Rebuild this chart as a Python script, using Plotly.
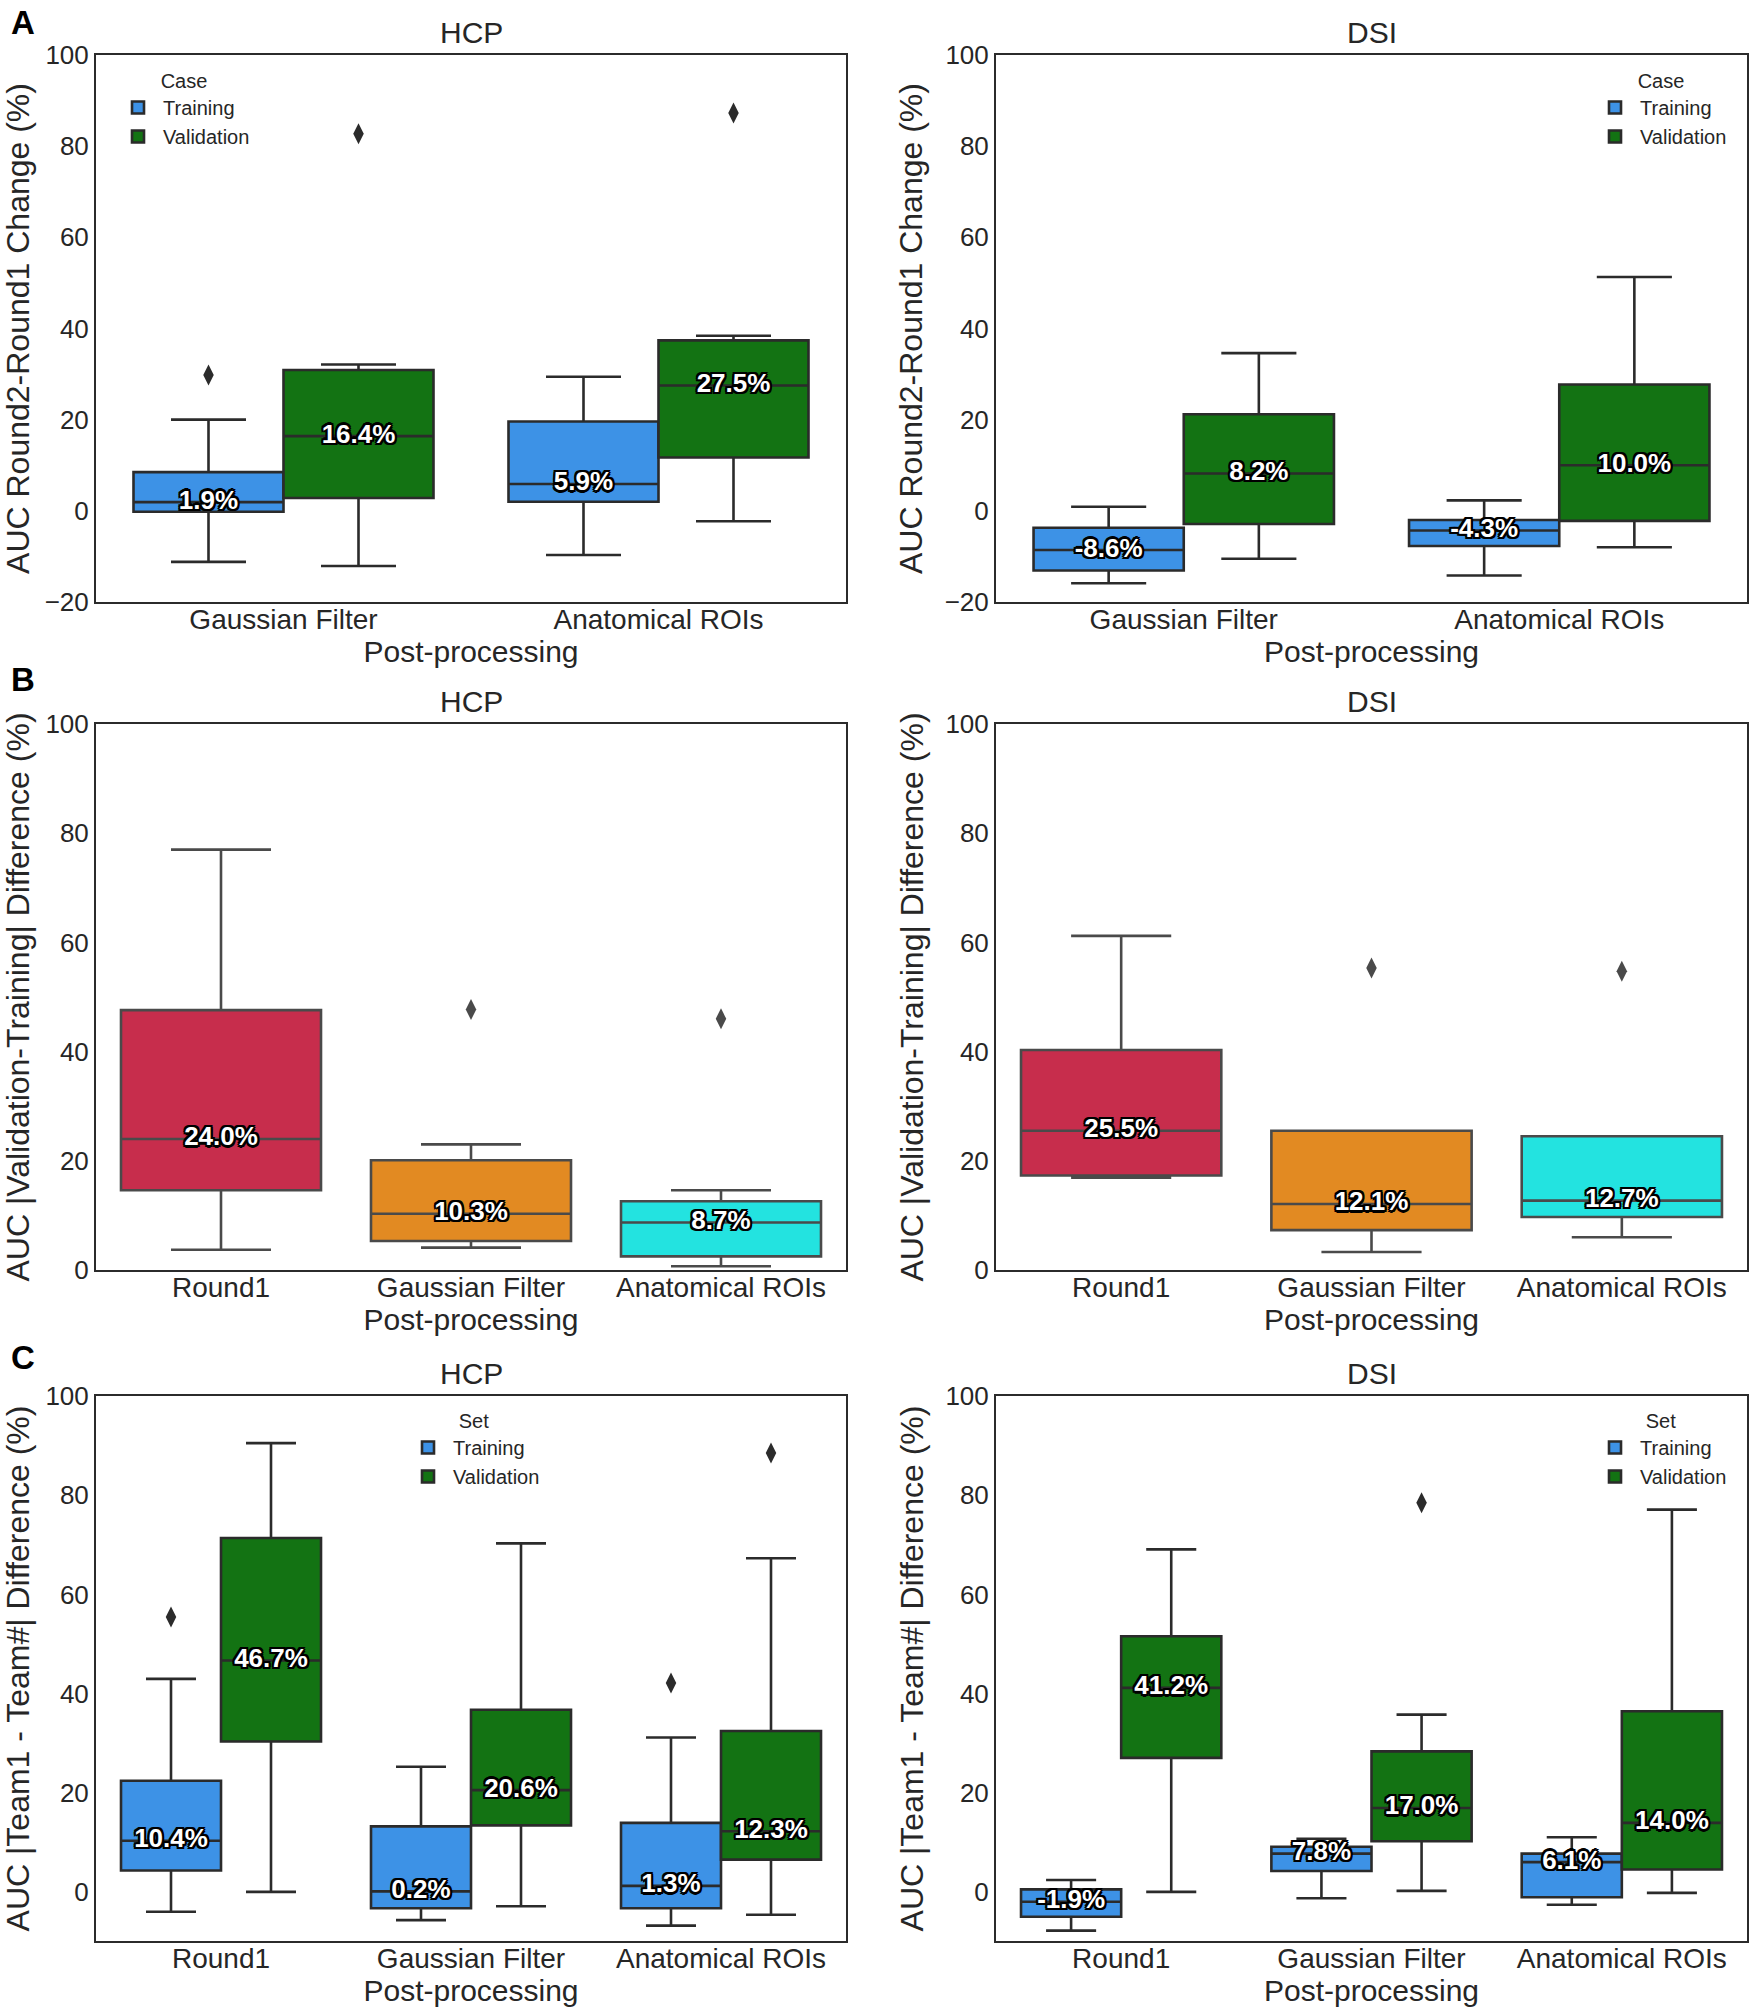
import plotly.graph_objects as go

# ---------------- data ----------------
CATS_A = ["Gaussian Filter", "Anatomical ROIs"]
CATS_BC = ["Round1", "Gaussian Filter", "Anatomical ROIs"]

# five-number summaries per category: [lower whisker, Q1, median, Q3, upper whisker]
A_HCP_TRAIN = [[-11.2, -0.2, 1.9, 8.5, 20.0], [-9.7, 2.0, 5.9, 19.6, 29.4]]
A_HCP_VALID = [[-12.1, 2.8, 16.4, 30.9, 32.1], [-2.3, 11.7, 27.5, 37.4, 38.4]]
A_HCP_TRAIN_OUT_X = ["Gaussian Filter"]
A_HCP_TRAIN_OUT_Y = [29.8]
A_HCP_VALID_OUT_X = ["Gaussian Filter", "Anatomical ROIs"]
A_HCP_VALID_OUT_Y = [82.7, 87.3]

A_DSI_TRAIN = [[-15.9, -13.1, -8.6, -3.7, 0.9], [-14.2, -7.7, -4.3, -2.0, 2.3]]
A_DSI_VALID = [[-10.5, -2.9, 8.2, 21.2, 34.6], [-8.0, -2.2, 10.0, 27.7, 51.3]]

B_HCP = [[3.7, 14.6, 24.0, 47.6, 77.0], [4.1, 5.3, 10.3, 20.1, 23.0], [0.7, 2.5, 8.7, 12.6, 14.6]]
B_HCP_OUT_X = ["Gaussian Filter", "Anatomical ROIs"]
B_HCP_OUT_Y = [47.7, 46.0]

B_DSI = [[16.9, 17.3, 25.5, 40.3, 61.2], [3.3, 7.3, 12.1, 25.5, 25.5], [6.0, 9.7, 12.7, 24.5, 24.5]]
B_DSI_OUT_X = ["Gaussian Filter", "Anatomical ROIs"]
B_DSI_OUT_Y = [55.3, 54.7]

C_HCP_TRAIN = [[-3.9, 4.4, 10.4, 22.5, 43.0], [-5.6, -3.2, 0.2, 13.3, 25.3], [-6.7, -3.2, 1.3, 14.0, 31.2]]
C_HCP_VALID = [[0.1, 30.4, 46.7, 71.4, 90.5], [-2.8, 13.5, 20.6, 36.8, 70.3], [-4.5, 6.6, 12.3, 32.5, 67.3]]
C_HCP_TRAIN_OUT_X = ["Round1", "Anatomical ROIs"]
C_HCP_TRAIN_OUT_Y = [55.5, 42.2]
C_HCP_VALID_OUT_X = ["Anatomical ROIs"]
C_HCP_VALID_OUT_Y = [88.5]

C_DSI_TRAIN = [[-7.7, -4.9, -1.9, 0.6, 2.5], [-1.2, 4.3, 7.8, 9.2, 10.8], [-2.5, -1.0, 6.1, 7.8, 11.1]]
C_DSI_VALID = [[0.1, 27.1, 41.2, 51.6, 69.1], [0.3, 10.3, 17.0, 28.4, 35.8], [-0.1, 4.6, 14.0, 36.5, 77.1]]
C_DSI_VALID_OUT_X = ["Gaussian Filter"]
C_DSI_VALID_OUT_Y = [78.5]

# ---------------- styles ----------------
FONT = "Liberation Sans, Arial, Helvetica, sans-serif"
TXT = "#262626"
BLUE = "#3d92e6"
GREEN = "#137313"
B_COLORS = ["#c72d4c", "#e28a22", "#23e3e0"]
EDGE = "#2b2b2b"
EDGE_B = "#4a4a4a"
OUTLINE = ("2px 2px 0 #000, -2px -2px 0 #000, 2px -2px 0 #000, -2px 2px 0 #000, "
           "0 2.2px 0 #000, 2.2px 0 0 #000, 0 -2.2px 0 #000, -2.2px 0 0 #000")

W, H = 1751, 2016
XDOM = [[96 / W, 846 / W], [996 / W, 1747 / W]]
YDOM = [[1 - 602 / H, 1 - 55 / H], [1 - 1270 / H, 1 - 724 / H], [1 - 1941 / H, 1 - 1396 / H]]

fig = go.Figure()


def axid(n):
    return "" if n == 1 else str(n)


def add_series(n, cats, stats, name, color, group, legend, showlegend, edge=EDGE):
    lo, q1, med, q3, hi = (list(c) for c in zip(*stats))
    fig.add_trace(go.Box(
        x=cats, q1=q1, median=med, q3=q3, lowerfence=lo, upperfence=hi,
        name=name, fillcolor=color, line=dict(color=edge, width=2.6),
        whiskerwidth=0.5, boxpoints=False, orientation="v",
        offsetgroup=group, alignmentgroup="g",
        xaxis="x" + axid(n), yaxis="y" + axid(n),
        legend=legend, showlegend=showlegend, hoverinfo="y"))


def add_labels(n, cats, stats, group):
    med = [s[2] for s in stats]
    fig.add_trace(go.Scatter(
        x=cats, y=med, mode="text", text=[f"{m:.1f}%" for m in med],
        textposition="middle center",
        textfont=dict(family=FONT, size=26, color="white", weight="bold", shadow=OUTLINE),
        offsetgroup=group, alignmentgroup="g", orientation="v",
        xaxis="x" + axid(n), yaxis="y" + axid(n), showlegend=False, hoverinfo="skip"))


def add_outliers(n, xs, ys, group, color=EDGE):
    fig.add_trace(go.Scatter(
        x=xs, y=ys, mode="markers",
        marker=dict(symbol="diamond-tall", size=15, color=color),
        offsetgroup=group, alignmentgroup="g", orientation="v",
        xaxis="x" + axid(n), yaxis="y" + axid(n), showlegend=False))


# Panel A
add_series(1, CATS_A, A_HCP_TRAIN, "Training", BLUE, "T", "legend", True)
add_series(1, CATS_A, A_HCP_VALID, "Validation", GREEN, "V", "legend", True)
add_labels(1, CATS_A, A_HCP_TRAIN, "T")
add_labels(1, CATS_A, A_HCP_VALID, "V")
add_outliers(1, A_HCP_TRAIN_OUT_X, A_HCP_TRAIN_OUT_Y, "T")
add_outliers(1, A_HCP_VALID_OUT_X, A_HCP_VALID_OUT_Y, "V")

add_series(2, CATS_A, A_DSI_TRAIN, "Training", BLUE, "T", "legend2", True)
add_series(2, CATS_A, A_DSI_VALID, "Validation", GREEN, "V", "legend2", True)
add_labels(2, CATS_A, A_DSI_TRAIN, "T")
add_labels(2, CATS_A, A_DSI_VALID, "V")

# Panel B
for n, stats, ox, oy in [(3, B_HCP, B_HCP_OUT_X, B_HCP_OUT_Y), (4, B_DSI, B_DSI_OUT_X, B_DSI_OUT_Y)]:
    for cat, st, col in zip(CATS_BC, stats, B_COLORS):
        add_series(n, [cat], [st], cat, col, "B", "legend", False, edge=EDGE_B)
    add_labels(n, CATS_BC, stats, "B")
    add_outliers(n, ox, oy, "B", color=EDGE_B)

# Panel C
add_series(5, CATS_BC, C_HCP_TRAIN, "Training", BLUE, "T", "legend3", True)
add_series(5, CATS_BC, C_HCP_VALID, "Validation", GREEN, "V", "legend3", True)
add_labels(5, CATS_BC, C_HCP_TRAIN, "T")
add_labels(5, CATS_BC, C_HCP_VALID, "V")
add_outliers(5, C_HCP_TRAIN_OUT_X, C_HCP_TRAIN_OUT_Y, "T")
add_outliers(5, C_HCP_VALID_OUT_X, C_HCP_VALID_OUT_Y, "V")

add_series(6, CATS_BC, C_DSI_TRAIN, "Training", BLUE, "T", "legend4", True)
add_series(6, CATS_BC, C_DSI_VALID, "Validation", GREEN, "V", "legend4", True)
add_labels(6, CATS_BC, C_DSI_TRAIN, "T")
add_labels(6, CATS_BC, C_DSI_VALID, "V")
add_outliers(6, C_DSI_VALID_OUT_X, C_DSI_VALID_OUT_Y, "V")

# ---------------- axes ----------------
YTITLES = ["AUC Round2-Round1 Change (%)",
           "AUC |Validation-Training| Difference (%)",
           "AUC |Team1 - Team#| Difference (%)"]
YRANGES = [[-20, 100], [0, 100], [-9.8, 100]]
YTICKS = [[-20, 0, 20, 40, 60, 80, 100], [0, 20, 40, 60, 80, 100], [0, 20, 40, 60, 80, 100]]

layout = {}
for row in range(3):
    for col in range(2):
        n = row * 2 + col + 1
        layout["xaxis" + axid(n)] = dict(
            domain=XDOM[col], anchor="y" + axid(n), type="category", automargin=False,
            showline=True, mirror=True, linecolor=EDGE, linewidth=2,
            showgrid=False, zeroline=False, ticks="", ticklen=0, ticklabelstandoff=-9,
            tickfont=dict(family=FONT, size=28, color=TXT),
            title=dict(text="Post-processing", standoff=2,
                       font=dict(family=FONT, size=30, color=TXT)))
        layout["yaxis" + axid(n)] = dict(
            domain=YDOM[row], anchor="x" + axid(n), range=YRANGES[row], automargin=False,
            tickvals=YTICKS[row], ticktext=[("−" + str(-v)) if v < 0 else str(v) for v in YTICKS[row]],
            showline=True, mirror=True, linecolor=EDGE, linewidth=2,
            showgrid=False, zeroline=False, ticks="", ticklen=0, ticklabelstandoff=0,
            tickfont=dict(family=FONT, size=26, color=TXT),
            title=dict(text=YTITLES[row], standoff=12,
                       font=dict(family=FONT, size=32, color=TXT)))

annotations = []
for row in range(3):
    for col, t in enumerate(["HCP", "DSI"]):
        annotations.append(dict(
            text=t, xref="paper", yref="paper", x=(XDOM[col][0] + XDOM[col][1]) / 2,
            y=YDOM[row][1], yanchor="bottom", xanchor="center", yshift=4, showarrow=False,
            font=dict(family=FONT, size=30, color=TXT)))
for letter, ypix in [("A", 23), ("B", 679), ("C", 1357)]:
    annotations.append(dict(
        text=letter, xref="paper", yref="paper", x=23 / W, y=1 - ypix / H,
        xanchor="center", yanchor="middle", showarrow=False,
        font=dict(family=FONT, size=33, color="#000000", weight="bold")))


def legend_cfg(title, x, y, xanchor):
    return dict(
        title=dict(text=title, side="top center", font=dict(family=FONT, size=20, color=TXT)),
        x=x, y=y, xanchor=xanchor, yanchor="top", bgcolor="rgba(0,0,0,0)",
        borderwidth=0, itemwidth=40, font=dict(family=FONT, size=20, color=TXT),
        tracegroupgap=0)


fig.update_layout(
    width=W, height=H, margin=dict(l=0, r=0, t=0, b=0, autoexpand=False),
    paper_bgcolor="white", plot_bgcolor="white",
    boxmode="group", boxgap=0.2, boxgroupgap=0,
    scattermode="group", scattergap=0.2,
    legend=legend_cfg("Case", 113 / W, 1 - 62 / H, "left"),
    legend2=legend_cfg("Case", 1732 / W, 1 - 62 / H, "right"),
    legend3=legend_cfg("Set", 403 / W, 1 - 1402 / H, "left"),
    legend4=legend_cfg("Set", 1732 / W, 1 - 1402 / H, "right"),
    annotations=annotations,
    font=dict(family=FONT, color=TXT),
    **layout,
)

fig.write_html("out.html", config={"displayModeBar": False},
               post_script="document.body.style.margin='0';")
